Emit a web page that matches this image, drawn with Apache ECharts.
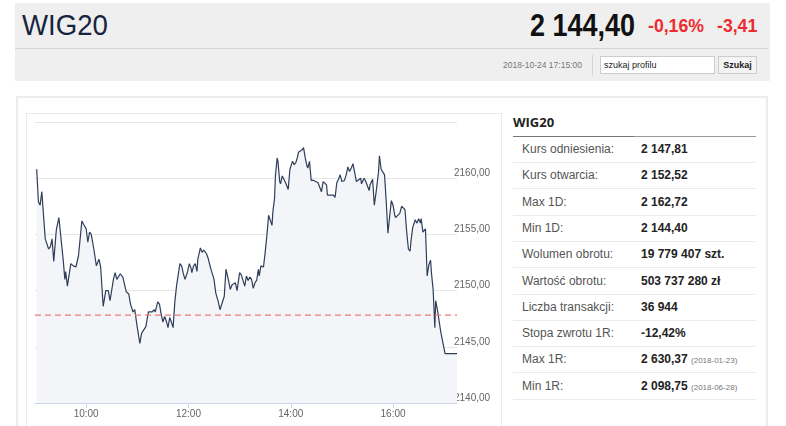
<!DOCTYPE html>
<html>
<head>
<meta charset="utf-8">
<script src="https://cdn.jsdelivr.net/npm/echarts@6/dist/echarts.min.js"></script>
<style>
  body { margin: 0; background: #fff; font-family: "Liberation Sans", Arial, sans-serif; width: 786px; height: 426px; overflow: hidden; position: relative; }
  .abs { position: absolute; }
  .narrow { transform-origin: 0 0; white-space: nowrap; }
  #head { left: 15px; top: 3px; width: 755px; height: 78px; background: #efefef; }
  #title { left: 22px; top: 8px; font-size: 30px; color: #16253d; transform: scaleX(0.92); }
  #price { left: 530px; top: 8px; font-weight: bold; font-size: 31px; color: #111; transform: scaleX(0.87); }
  #chg1 { left: 648px; top: 15px; font-weight: bold; font-size: 19px; color: #ee2b2f; transform: scaleX(0.93); }
  #chg2 { left: 717px; top: 15px; font-weight: bold; font-size: 19px; color: #ee2b2f; transform: scaleX(0.93); }
  #hline { left: 15px; top: 48px; width: 753px; height: 1px; background: #d4d4d4; }
  #date { left: 503px; top: 60px; font-size: 8.5px; color: #777; }
  #vsep { left: 592px; top: 55px; width: 1px; height: 21px; background: #d4d4d4; }
  #search { left: 600px; top: 56px; background: #fff; border: 1px solid #ccc; font-size: 9px; color: #222; line-height: 16px; padding-left: 3px; box-sizing: border-box; width: 115px; height: 18px; }
  #btn { left: 718px; top: 56px; width: 39px; height: 18px; background: #f4f4f4; border: 1px solid #ccc; box-sizing: border-box; font-size: 9px; font-weight: bold; color: #222; text-align: center; line-height: 16px; }
  #panel { left: 16px; top: 96px; width: 752px; height: 340px; border: 2px solid #ececec; box-sizing: border-box; }
  #cbox { left: 26px; top: 113px; width: 476px; height: 330px; border: 1px solid #eaeaea; box-sizing: border-box; }
  #chart { left: 27px; top: 114px; width: 474px; height: 312px; }
  #tname { left: 513px; top: 113px; font-family: "Open Sans", sans-serif; font-weight: bold; font-size: 13px; color: #222; }
  #tline1 { left: 513px; top: 136px; width: 121px; height: 1px; background: #777; }
  #tline2 { left: 634px; top: 136px; width: 122px; height: 1px; background: #999; }
  .row { position: absolute; left: 513px; width: 243px; height: 26px; border-bottom: 1px solid #ebebeb; box-sizing: border-box; font-size: 12px; }
  .row .k { position: absolute; left: 9px; top: 5px; color: #555; }
  .row .v { position: absolute; left: 128px; top: 5px; color: #222; font-weight: bold; }
  .row .d { font-size: 8px; color: #777; font-weight: normal; }
</style>
</head>
<body>
<div id="head" class="abs"></div>
<div id="title" class="abs narrow">WIG20</div>
<div id="price" class="abs narrow">2 144,40</div>
<div id="chg1" class="abs narrow">-0,16%</div>
<div id="chg2" class="abs narrow">-3,41</div>
<div id="hline" class="abs"></div>
<div id="date" class="abs">2018-10-24 17:15:00</div>
<div id="vsep" class="abs"></div>
<div id="search" class="abs">szukaj profilu</div>
<div id="btn" class="abs">Szukaj</div>
<div id="panel" class="abs"></div>
<div id="cbox" class="abs"></div>
<div id="chart" class="abs"></div>
<div id="tname" class="abs">WIG20</div>
<div id="tline1" class="abs"></div>
<div id="tline2" class="abs"></div>
<div id="table"></div>
<script>
// session trace: minutes after 09:00 and index level
var minutesFrom9 = [2,4,6,8,12,16,18,20,22,25,28,30,33,35,36,38,42,45,48,51,55,57,60,62,64,66,69,72,75,77,80,83,86,88,92,94,96,100,103,107,110,112,115,117,120,123,125,127,130,133,135,137,140,141,144,146,148,150,152,154,156,158,160,162,164,166,168,170,172,174,176,179,181,183,184,186,188,190,191,194,196,198,201,203,206,208,210,212,215,217,219,222,224,227,229,231,233,235,237,240,242,244,246,248,250,252,254,256,258,260,262,263,265,268,270,272,274,276,278,279,281,282,284,285,287,288,290,292,294,295,297,299,302,304,306,308,309,311,313,315,317,319,320,322,324,327,329,332,334,336,338,340,342,343,345,347,350,352,354,356,358,360,363,365,367,369,371,373,375,377,379,382,383,386,388,390,392,393,396,398,400,401,403,404,406,408,410,412,414,416,418,420,422,423,425,428,430,432,434,436,438,440,441,443,446,448,450,452,453,455,457,458,460,462,464,465,467,469,470,472,476,481,495];
var levels = [2160.8,2157.9,2157.6,2158.8,2154.6,2153.7,2153.9,2154.6,2152.6,2155.4,2156.5,2156.5,2152.8,2151.0,2151.7,2150.4,2152.4,2152.2,2152.1,2153.1,2156.2,2155.9,2155.5,2154.3,2155.2,2155.0,2153.7,2152.2,2152.8,2152.1,2148.6,2150.0,2150.0,2149.1,2151.0,2151.6,2151.0,2151.5,2151.2,2149.9,2149.7,2148.8,2148.1,2148.3,2146.7,2145.3,2146.2,2146.1,2146.8,2148.1,2148.2,2148.1,2148.3,2148.1,2149.0,2148.8,2147.9,2147.2,2147.7,2147.3,2146.7,2147.6,2147.2,2146.7,2149.0,2150.4,2150.5,2152.4,2152.2,2151.5,2151.0,2151.7,2152.4,2152.0,2151.6,2152.2,2152.4,2151.7,2152.8,2153.8,2153.4,2153.6,2153.3,2152.9,2152.0,2152.1,2151.0,2149.8,2149.0,2148.3,2148.3,2149.5,2151.9,2150.9,2150.1,2150.5,2150.4,2150.7,2150.0,2151.6,2151.4,2151.3,2150.4,2151.3,2150.9,2151.2,2151.0,2150.2,2150.7,2150.9,2151.9,2151.3,2152.2,2152.1,2153.4,2154.9,2156.7,2156.6,2155.8,2157.0,2158.2,2160.2,2161.8,2161.5,2159.7,2159.5,2160.2,2160.2,2159.6,2159.7,2159.0,2160.8,2161.5,2161.2,2161.4,2161.9,2162.3,2162.2,2162.5,2162.72,2161.8,2161.1,2160.9,2161.5,2159.8,2159.8,2159.7,2159.6,2159.6,2158.8,2159.7,2159.6,2159.4,2158.5,2158.4,2158.5,2158.5,2158.3,2159.6,2159.9,2160.3,2159.7,2159.8,2160.3,2161.0,2160.6,2160.9,2161.3,2160.5,2159.7,2159.6,2160.0,2159.5,2160.0,2159.7,2159.6,2158.9,2159.4,2159.9,2157.6,2158.7,2159.3,2160.6,2162.0,2160.8,2160.9,2160.3,2157.9,2155.1,2156.6,2158.0,2157.6,2156.7,2156.5,2156.4,2156.9,2157.5,2157.6,2157.2,2155.2,2153.7,2153.5,2154.4,2155.6,2156.3,2156.0,2156.4,2156.0,2156.4,2155.2,2155.1,2155.5,2151.3,2152.3,2152.7,2151.6,2150.1,2146.7,2149.1,2148.3,2146.3,2144.4,2144.4];
var referenceLevel = 2147.81;
var timeTicks = ['10:00', '12:00', '14:00', '16:00'];
var yTicks = [2140, 2145, 2150, 2155, 2160, 2165];

var statLabels = ['Kurs odniesienia:', 'Kurs otwarcia:', 'Max 1D:', 'Min 1D:', 'Wolumen obrotu:', 'Wartość obrotu:', 'Liczba transakcji:', 'Stopa zwrotu 1R:', 'Max 1R:', 'Min 1R:'];
var statValues = ['2 147,81', '2 152,52', '2 162,72', '2 144,40', '19 779 407 szt.', '503 737 280 zł', '36 944', '-12,42%', '2 630,37', '2 098,75'];
var statDates = ['', '', '', '', '', '', '', '', '2018-01-23', '2018-06-28'];

function toMin(hhmm) {
    var p = hhmm.split(':');
    return parseInt(p[0], 10) * 60 + parseInt(p[1], 10);
}
function fmtMin(v) {
    var h = Math.floor(v / 60), m = v % 60;
    return h + ':' + (m < 10 ? '0' : '') + m;
}

// side table
var table = document.getElementById('table');
statLabels.forEach(function (label, i) {
    var row = document.createElement('div');
    row.className = 'row';
    row.style.top = (137 + i * 26.3) + 'px';
    var html = '<span class="k">' + label + '</span><span class="v">' + statValues[i];
    if (statDates[i]) html += ' <span class="d">(' + statDates[i] + ')</span>';
    html += '</span>';
    row.innerHTML = html;
    table.appendChild(row);
});

var xMin = toMin('09:00'), xMax = toMin('17:15');
var seriesData = minutesFrom9.map(function (m, i) { return [xMin + m, levels[i]]; });
var tickMinutes = timeTicks.map(toMin);

var myChart = echarts.init(document.getElementById('chart'));
myChart.setOption({
    animation: false,
    grid: { left: 8, top: 8, right: 44, bottom: 23 },
    xAxis: {
        type: 'value',
        min: xMin,
        max: xMax,
        splitLine: { show: false },
        axisLine: { lineStyle: { color: '#ccd6eb' } },
        axisTick: { customValues: tickMinutes, length: 5, lineStyle: { color: '#ccd6eb' } },
        axisLabel: { customValues: tickMinutes, formatter: fmtMin, color: '#666', fontSize: 10, margin: 6, fontFamily: 'Liberation Sans' }
    },
    yAxis: {
        type: 'value',
        position: 'right',
        min: yTicks[0],
        max: yTicks[yTicks.length - 1],
        interval: 5,
        axisLine: { show: false },
        axisTick: { show: false },
        splitLine: { lineStyle: { color: '#e6e6e6' } },
        axisLabel: {
            color: '#666', fontSize: 10, fontFamily: 'Liberation Sans', margin: -3, align: 'left', verticalAlign: 'bottom',
            formatter: function (v) { return v === yTicks[yTicks.length - 1] ? '' : v.toFixed(2).replace('.', ','); }
        }
    },
    series: [{
        type: 'line',
        data: seriesData,
        showSymbol: false,
        symbol: 'none',
        lineStyle: { color: '#2f3f5a', width: 1.2 },
        areaStyle: { color: '#f4f5f8', opacity: 1 },
        z: 2
    }, {
        // kurs odniesienia, dashed across the session
        type: 'line',
        data: [[xMin, referenceLevel], [xMax, referenceLevel]],
        showSymbol: false,
        symbol: 'none',
        silent: true,
        lineStyle: { color: '#f07b7b', type: [6, 4], width: 1.2 },
        z: 3
    }]
});
</script>
</body>
</html>
